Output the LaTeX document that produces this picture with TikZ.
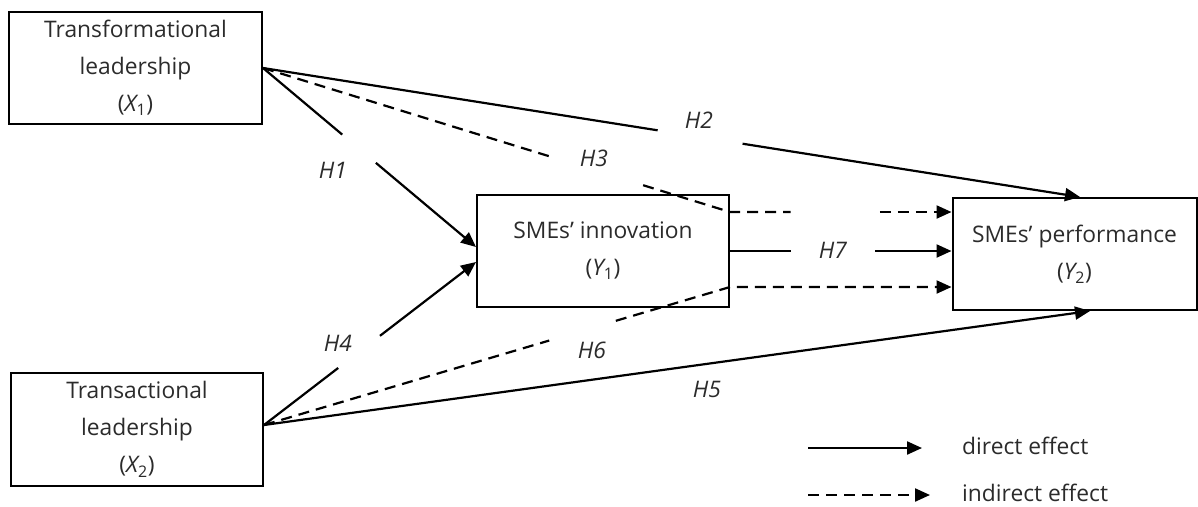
\documentclass[tikz,border=0pt]{standalone}
\usepackage{fontspec}
\setmainfont{Open Sans}
\usetikzlibrary{arrows.meta,calc}
\definecolor{txt}{HTML}{2B2B2B}
\begin{document}
\begin{tikzpicture}[x=1pt,y=-1pt,
  box/.style={draw, line width=2pt, align=center, inner sep=0pt, text=txt,
    font=\fontsize{22.8}{37}\selectfont},
  conn/.style={line width=2.2pt},
  ind/.style={conn, dash pattern=on 11pt off 7pt},
  tip/.style={-{Triangle[length=15pt,width=13pt]}},
  hlab/.style={font=\fontsize{22.8}{26}\selectfont\itshape, text=txt, inner sep=0pt},
  leg/.style={font=\fontsize{22.8}{26}\selectfont, text=txt, inner sep=0pt}]
\useasboundingbox (0,0) rectangle (1198,506);
% boxes
\node[box, minimum width=253pt, minimum height=112pt] (x1) at (135.5,68)
  {Transformational\\leadership\\({\itshape X}\textsubscript{1})};
\node[box, minimum width=252pt, minimum height=113pt] (x2) at (137,429.5)
  {Transactional\\leadership\\({\itshape X}\textsubscript{2})};
\node[box, minimum width=252pt, minimum height=112pt] (y1) at (603,251)
  {SMEs’ innovation\\({\itshape Y}\textsubscript{1})};
\node[box, minimum width=244pt, minimum height=112pt] (y2) at (1074.5,254)
  {SMEs’ performance\\({\itshape Y}\textsubscript{2})};
% anchor points
\coordinate (a1) at (x1.east);
\coordinate (a2) at ($(x2.east)+(0,-4.5)$);
\coordinate (h1e) at ($(y1.west)+(0,-4)$);
\coordinate (h4e) at ($(y1.west)+(0,11)$);
\coordinate (h2e) at ($(y2.north)+(5.5,0)$);
\coordinate (h5e) at ($(y2.south)+(15.5,0)$);
\coordinate (h3m) at ($(y1.north east)+(0,18)$);
\coordinate (h3e) at (y2.west |- h3m);
\coordinate (h7s) at (y1.east);
\coordinate (h7e) at (y2.west |- h7s);
\coordinate (h6m) at ($(y1.south east)+(0,-21)$);
\coordinate (h6e) at (y2.west |- h6m);
% H1
\draw[conn] (a1) -- ($(a1)!0.372!(h1e)$);
\draw[conn,tip] ($(a1)!0.53!(h1e)$) -- (h1e);
% H2
\draw[conn] (a1) -- ($(a1)!0.483!(h2e)$);
\draw[conn,tip] ($(a1)!0.587!(h2e)$) -- (h2e);
% H3
\draw[ind] (a1) -- ($(a1)!0.621!(h3m)$);
\draw[ind] ($(a1)!0.814!(h3m)$) -- (h3m) -- ($(h3m)!0.274!(h3e)$);
\draw[ind,tip] ($(h3m)!0.677!(h3e)$) -- (h3e);
% H7
\draw[conn] (h7s) -- ($(h7s)!0.274!(h7e)$);
\draw[conn,tip] ($(h7s)!0.655!(h7e)$) -- (h7e);
% H4
\draw[conn] (a2) -- ($(a2)!0.35!(h4e)$);
\draw[conn,tip] ($(a2)!0.547!(h4e)$) -- (h4e);
% H6
\draw[ind] (a2) -- ($(a2)!0.612!(h6m)$);
\draw[ind,tip] ($(a2)!0.755!(h6m)$) -- (h6m) -- (h6e);
% H5
\draw[conn,tip] (a2) -- (h5e);
% labels
\node[hlab] (l1) at (333,170) {H1};
\node[hlab] (l2) at (699,120) {H2};
\node[hlab] (l3) at (594,158) {H3};
\node[hlab] (l4) at (338,343) {H4};
\node[hlab] (l5) at (707,389) {H5};
\node[hlab] (l6) at (592,350) {H6};
\node[hlab] (l7) at (833,250) {H7};
% legend
\coordinate (ls1) at (808,448);
\coordinate (le1) at (922,448);
\coordinate (ls2) at (808,495);
\coordinate (le2) at (930,495);
\draw[conn,tip] (ls1) -- (le1);
\draw[ind,tip] (ls2) -- (le2);
\node[leg, anchor=base west] (t1) at (962,454) {direct effect};
\node[leg, anchor=base west] (t2) at (962,501) {indirect effect};
\end{tikzpicture}
\end{document}
